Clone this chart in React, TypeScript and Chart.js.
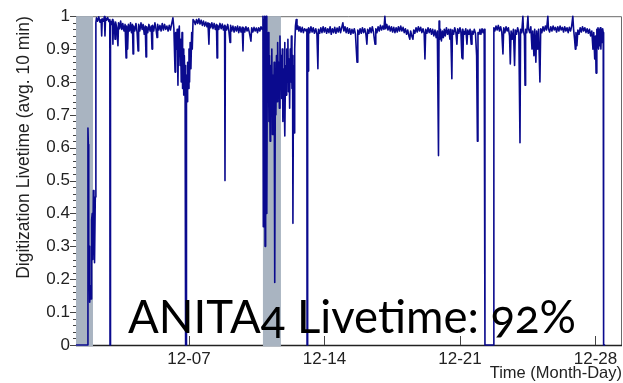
import React, { useEffect, useRef } from 'react';
import { Chart, registerables } from 'chart.js';

Chart.register(...registerables);

// x values are days of December (12-07 == 7.0), y values are livetime fractions
const tickDays = [7, 14, 21, 28];
const tickLabels = ['12-07', '12-14', '12-21', '12-28'];
const grayBands: [number, number][] = [
  [1.163, 2.04],
  [10.82, 11.75],
];
const X_MIN = 1.163;
const X_MAX = 29.37;

const launchPhase: [number, number][] = [
  [1.16, 0], [1.77, 0], [1.78, 0.66], [1.8, 0.61], [1.82, 0.22], [1.84, 0.3], [1.86, 0.21], [1.88, 0.13],
  [1.91, 0.18], [1.94, 0.14], [1.97, 0.38], [2.0, 0.4], [2.03, 0.26], [2.06, 0.47], [2.09, 0.44], [2.12, 0.25],
  [2.16, 0.45], [2.19, 0.98],
];

const firstWeek: [number, number][] = [
  [2.22, 0.995], [2.28, 0.985], [2.34, 0.998], [2.4, 0.982], [2.46, 0.99], [2.49, 0.94], [2.52, 0.992], [2.58, 0.985],
  [2.63, 0.999], [2.66, 0.94], [2.69, 0.995], [2.74, 0.988], [2.8, 0.996], [2.86, 0.984], [2.91, 0.99], [2.92, 0],
  [2.94, 0], [2.95, 0.985], [3.0, 0.975], [3.05, 0.99], [3.07, 0.915], [3.1, 0.985], [3.15, 0.97], [3.18, 0.93],
  [3.21, 0.982], [3.27, 0.965], [3.33, 0.91], [3.36, 0.98], [3.42, 0.962], [3.47, 0.985], [3.53, 0.96], [3.58, 0.978],
  [3.64, 0.955], [3.7, 0.975], [3.75, 0.873], [3.78, 0.97], [3.83, 0.9], [3.87, 0.975], [3.93, 0.955], [3.98, 0.98],
  [4.03, 0.95], [4.08, 0.975], [4.11, 0.885], [4.14, 0.97], [4.2, 0.955], [4.26, 0.978], [4.32, 0.95], [4.37, 0.894],
  [4.4, 0.975], [4.46, 0.955], [4.52, 0.98], [4.58, 0.96], [4.63, 0.975], [4.69, 0.945], [4.74, 0.97], [4.78, 0.876],
  [4.81, 0.968], [4.87, 0.95], [4.93, 0.975], [4.99, 0.955], [5.05, 0.97], [5.09, 0.9], [5.12, 0.972], [5.18, 0.955],
  [5.24, 0.98], [5.3, 0.96], [5.35, 0.935], [5.38, 0.975], [5.44, 0.958], [5.5, 0.972], [5.56, 0.955], [5.62, 0.978],
  [5.68, 0.958], [5.74, 0.975], [5.8, 0.96], [5.86, 0.97], [5.92, 0.955], [5.98, 0.972], [6.04, 0.958], [6.1, 0.975],
  [6.17, 0.995], [6.22, 0.962],
  [6.28, 0.83], [6.31, 0.95], [6.35, 0.9], [6.39, 0.96], [6.43, 0.79], [6.46, 0.94], [6.5, 0.97], [6.54, 0.85],
  [6.57, 0.93], [6.6, 0.8], [6.64, 0.95], [6.67, 0.78], [6.7, 0.9], [6.73, 0.76], [6.76, 0.88], [6.8, 0.75],
  [6.82, 0.85], [6.83, 0], [6.86, 0], [6.87, 0.82], [6.9, 0.74], [6.93, 0.86], [6.97, 0.78], [7.0, 0.9],
  [7.03, 0.8], [7.06, 0.92], [7.1, 0.84], [7.14, 0.95], [7.17, 0.9], [7.21, 0.99],
];

const secondWeek: [number, number][] = [
  [7.27, 0.985], [7.33, 0.975], [7.39, 0.99], [7.45, 0.978], [7.51, 0.992], [7.57, 0.976], [7.63, 0.988], [7.69, 0.972],
  [7.75, 0.985], [7.81, 0.97], [7.87, 0.982], [7.93, 0.968], [7.98, 0.98], [8.03, 0.915], [8.06, 0.978], [8.12, 0.965],
  [8.18, 0.98], [8.24, 0.962], [8.3, 0.978], [8.36, 0.96], [8.42, 0.975], [8.45, 0.873], [8.48, 0.972], [8.54, 0.96],
  [8.6, 0.978], [8.66, 0.962], [8.72, 0.976], [8.78, 0.958], [8.84, 0.972], [8.86, 0.5], [8.88, 0.97], [8.94, 0.958],
  [9.0, 0.975], [9.06, 0.955], [9.12, 0.92], [9.15, 0.972], [9.21, 0.955], [9.27, 0.97], [9.33, 0.952], [9.39, 0.968],
  [9.45, 0.955], [9.51, 0.97], [9.57, 0.95], [9.63, 0.968], [9.69, 0.952], [9.75, 0.966], [9.79, 0.894], [9.82, 0.965],
  [9.88, 0.952], [9.94, 0.968], [10.0, 0.955], [10.06, 0.965], [10.12, 0.95], [10.2, 0.924], [10.24, 0.965], [10.3, 0.952],
  [10.36, 0.966], [10.42, 0.955], [10.48, 0.964], [10.54, 0.95], [10.6, 0.965], [10.66, 0.955], [10.72, 0.968], [10.78, 0.96],
  [10.82, 1.0], [10.84, 0.36], [10.86, 0.99], [10.89, 0.5], [10.91, 1.0], [10.93, 0.3], [10.95, 0.98], [10.97, 0.7],
  [10.99, 1.0], [11.01, 0.6], [11.03, 0.4], [11.05, 0.92], [11.08, 0.75], [11.1, 0.95], [11.13, 0.68], [11.16, 0.88],
  [11.19, 0.62], [11.22, 0.85], [11.25, 0.72], [11.28, 0.9], [11.31, 0.64], [11.34, 0.82], [11.37, 0.7], [11.4, 0.86],
  [11.42, 0.6], [11.44, 0.19], [11.46, 0.8], [11.49, 0.7], [11.52, 0.88], [11.55, 0.74], [11.58, 0.92], [11.61, 0.78],
  [11.64, 0.86], [11.67, 0.72], [11.7, 0.94], [11.73, 0.8], [11.76, 0.88], [11.79, 0.75], [11.82, 0.9], [11.85, 0.68],
  [11.88, 0.84], [11.91, 0.78], [11.94, 0.92], [11.96, 0.636], [11.99, 0.85], [12.02, 0.76], [12.05, 0.9], [12.08, 0.8],
  [12.11, 0.93], [12.14, 0.77], [12.17, 0.87], [12.2, 0.72], [12.23, 0.9], [12.26, 0.8], [12.29, 0.94], [12.32, 0.78],
  [12.35, 0.88], [12.37, 0.37], [12.4, 0.85], [12.43, 0.645], [12.46, 0.9], [12.5, 0.97], [12.54, 0.99], [12.58, 0.96],
  [12.63, 0.97], [12.68, 0.955], [12.73, 0.968], [12.79, 0.952], [12.85, 0.966], [12.91, 0.95], [12.97, 0.962], [13.05, 0.955],
  [13.09, 0.96],
];

const thirdWeek: [number, number][] = [
  [13.1, 0], [13.12, 0], [13.14, 0.96], [13.15, 0.833], [13.18, 0.965], [13.24, 0.95], [13.3, 0.968], [13.36, 0.952],
  [13.42, 0.965], [13.48, 0.948], [13.55, 0.962], [13.61, 0.945], [13.66, 0.84], [13.69, 0.96], [13.75, 0.948], [13.81, 0.965],
  [13.87, 0.95], [13.93, 0.968], [13.99, 0.952], [14.05, 0.965], [14.11, 0.948], [14.17, 0.962], [14.23, 0.95], [14.29, 0.968],
  [14.35, 0.945], [14.41, 0.962], [14.47, 0.95], [14.53, 0.966], [14.59, 0.948], [14.65, 0.964], [14.71, 0.952], [14.77, 0.968],
  [14.83, 0.95], [14.89, 0.965], [14.95, 0.98], [15.0, 0.955], [15.06, 0.968], [15.12, 0.95], [15.18, 0.965], [15.24, 0.948],
  [15.3, 0.962], [15.36, 0.945], [15.42, 0.96], [15.48, 0.948], [15.54, 0.962], [15.6, 0.945], [15.68, 0.86], [15.72, 0.958],
  [15.78, 0.945], [15.84, 0.962], [15.9, 0.948], [15.96, 0.965], [16.02, 0.95], [16.08, 0.962], [16.14, 0.945], [16.19, 0.915],
  [16.23, 0.96], [16.29, 0.948], [16.35, 0.965], [16.41, 0.95], [16.47, 0.968], [16.53, 0.952], [16.61, 0.915], [16.65, 0.962],
  [16.71, 0.95], [16.77, 0.968], [16.83, 0.955], [16.89, 0.972], [16.95, 0.958], [17.01, 0.97], [17.07, 0.96], [17.12, 1.0],
  [17.16, 0.962], [17.22, 0.975], [17.28, 0.958], [17.34, 0.97], [17.4, 0.955], [17.46, 0.968], [17.52, 0.952], [17.58, 0.966],
  [17.64, 0.95], [17.7, 0.965], [17.76, 0.952], [17.82, 0.968], [17.88, 0.955], [17.94, 0.97], [18.0, 0.955], [18.06, 0.966],
  [18.12, 0.95], [18.18, 0.962], [18.24, 0.945], [18.3, 0.958], [18.36, 0.94], [18.41, 0.93], [18.45, 0.955], [18.51, 0.94],
  [18.57, 0.93], [18.61, 0.958], [18.67, 0.948], [18.73, 0.965], [18.79, 0.952], [18.85, 0.968], [18.91, 0.955], [18.97, 0.966],
  [19.03, 0.95], [19.09, 0.962], [19.15, 0.948], [19.19, 0.87], [19.23, 0.96], [19.29, 0.948], [19.35, 0.965], [19.41, 0.95],
  [19.47, 0.962], [19.53, 0.945], [19.59, 0.96], [19.65, 0.94], [19.71, 0.958], [19.77, 0.935], [19.83, 0.955], [19.89, 0.576],
  [19.92, 0.985], [19.95, 0.93], [19.99, 0.96], [20.04, 0.925], [20.09, 0.955], [20.14, 0.935], [20.19, 0.96], [20.24, 0.94],
  [20.3, 0.965], [20.36, 0.945], [20.42, 0.96], [20.48, 0.93], [20.52, 0.96], [20.58, 0.81], [20.61, 0.958], [20.67, 0.945],
  [20.73, 0.965], [20.79, 0.95], [20.84, 0.915], [20.88, 0.962], [20.94, 0.948], [21.0, 0.965], [21.05, 0.95], [21.1, 0.873],
  [21.13, 0.96], [21.15, 0.87], [21.18, 0.955], [21.24, 0.945], [21.3, 0.962], [21.36, 0.915], [21.4, 0.958], [21.46, 0.945],
  [21.52, 0.96], [21.58, 0.915], [21.62, 0.955], [21.68, 0.945], [21.74, 0.96], [21.8, 0.948], [21.86, 0.88], [21.9, 0.62],
  [21.93, 0.95], [21.98, 0.945], [22.03, 0.96], [22.08, 0.945], [22.14, 0.962], [22.19, 0.95], [22.25, 0.96], [22.29, 0],
  [22.74, 0],
];

const fourthWeek: [number, number][] = [
  [22.75, 0.965], [22.8, 0.955], [22.86, 0.97], [22.92, 0.958], [22.98, 0.972], [23.04, 0.955], [23.1, 0.968], [23.16, 0.952],
  [23.22, 0.885], [23.26, 0.965], [23.32, 0.95], [23.38, 0.968], [23.44, 0.955], [23.5, 0.965], [23.56, 0.94], [23.6, 0.855],
  [23.64, 0.955], [23.7, 0.93], [23.76, 0.96], [23.82, 0.85], [23.86, 0.958], [23.92, 0.945], [23.98, 0.965], [24.04, 0.95],
  [24.1, 0.615], [24.13, 0.96], [24.19, 0.95], [24.25, 1.0], [24.28, 0.955], [24.33, 0.94], [24.36, 0.79], [24.39, 0.96],
  [24.45, 0.95], [24.51, 1.0], [24.54, 0.962], [24.6, 0.95], [24.66, 0.968], [24.72, 0.9], [24.76, 0.955], [24.82, 0.88],
  [24.86, 0.96], [24.92, 0.86], [24.96, 0.955], [25.02, 0.9], [25.06, 0.96], [25.13, 0.8], [25.17, 0.962], [25.23, 0.95],
  [25.29, 0.968], [25.35, 0.955], [25.41, 0.97], [25.47, 0.958], [25.54, 1.0], [25.57, 0.962], [25.63, 0.952], [25.69, 0.968],
  [25.75, 0.955], [25.81, 0.97], [25.87, 0.958], [25.93, 0.966], [25.99, 0.952], [26.05, 0.968], [26.11, 0.955], [26.17, 0.97],
  [26.23, 0.958], [26.29, 0.966], [26.35, 0.952], [26.41, 0.968], [26.47, 0.955], [26.53, 0.965], [26.59, 0.95], [26.65, 0.966],
  [26.71, 0.955], [26.77, 0.97], [26.83, 1.0], [26.87, 0.96], [26.92, 0.93], [26.96, 0.9], [26.99, 0.95], [27.04, 0.91],
  [27.09, 0.958], [27.15, 0.945], [27.21, 0.965], [27.27, 0.952], [27.33, 0.968], [27.39, 0.955], [27.45, 0.965], [27.51, 0.95],
  [27.57, 0.962], [27.63, 0.948], [27.69, 0.96], [27.75, 0.94], [27.81, 0.955], [27.87, 0.9], [27.91, 0.95], [27.96, 0.87],
  [28.0, 0.94], [28.03, 0.827], [28.07, 0.96], [28.1, 0.905], [28.13, 0.965], [28.16, 0.9], [28.19, 0.96], [28.22, 0.91],
  [28.25, 0.965], [28.28, 0.9], [28.31, 0.96], [28.34, 0.92], [28.37, 0.962], [28.4, 0.95], [28.42, 0], [28.5, 0],
];

const livetimeSeries = [...launchPhase, ...firstWeek, ...secondWeek, ...thirdWeek, ...fourthWeek];

const FONT = '"Liberation Sans", Arial, Helvetica, sans-serif';

const framePlugin = {
  id: 'rootFrame',
  beforeDatasetsDraw(chart: any) {
    const { ctx, chartArea, scales } = chart;
    const { left, right, top, bottom } = chartArea;
    const x = scales.x;
    const y = scales.y;
    ctx.save();
    // frame
    ctx.strokeStyle = '#6a6a6a';
    ctx.lineWidth = 1;
    ctx.beginPath();
    ctx.moveTo(left, top + 0.5);
    ctx.lineTo(right - 0.5, top + 0.5);
    ctx.lineTo(right - 0.5, bottom);
    ctx.stroke();
    // y axis
    ctx.strokeStyle = '#333';
    ctx.beginPath();
    ctx.moveTo(left + 0.5, top);
    ctx.lineTo(left + 0.5, bottom);
    ctx.stroke();
    // y ticks (major + minor)
    ctx.strokeStyle = '#444';
    for (let i = 0; i <= 50; i++) {
      const v = i / 50;
      const py = Math.round(y.getPixelForValue(v)) + 0.5;
      const len = i % 5 === 0 ? 6 : 3;
      ctx.beginPath();
      ctx.moveTo(left - len, py);
      ctx.lineTo(left, py);
      ctx.stroke();
    }
    // x axis
    ctx.strokeStyle = '#222';
    ctx.lineWidth = 1.5;
    ctx.beginPath();
    ctx.moveTo(left, bottom + 0.5);
    ctx.lineTo(right, bottom + 0.5);
    ctx.stroke();
    ctx.lineWidth = 1;
    ctx.strokeStyle = '#444';
    x.ticks.forEach((t: any) => {
      const px = Math.round(x.getPixelForValue(t.value)) + 0.5;
      ctx.beginPath();
      ctx.moveTo(px, bottom);
      ctx.lineTo(px, bottom - 9);
      ctx.stroke();
    });
    // shaded periods
    ctx.fillStyle = '#a9b4c1';
    grayBands.forEach(([a, b]) => {
      const x0 = x.getPixelForValue(a);
      const x1 = x.getPixelForValue(b);
      ctx.fillRect(x0, top, x1 - x0, bottom - top + 1.5);
    });
    ctx.restore();
  },
};

export default function App() {
  const canvasRef = useRef<HTMLCanvasElement | null>(null);

  useEffect(() => {
    const canvas = canvasRef.current;
    if (!canvas) return;
    const chart = new Chart(canvas, {
      type: 'line',
      data: {
        datasets: [
          {
            label: 'Digitization livetime',
            data: livetimeSeries.map(([d, v]) => ({ x: d, y: v })),
            borderColor: '#0a0a8e',
            borderWidth: 1.6,
            borderJoinStyle: 'round',
            pointRadius: 0,
            tension: 0,
            fill: false,
            clip: 3,
          } as any,
        ],
      },
      options: {
        responsive: false,
        devicePixelRatio: 1,
        animation: false,
        layout: { padding: { top: 15, right: 1, left: 0, bottom: 0 } },
        plugins: { legend: { display: false }, tooltip: { enabled: false } },
        scales: {
          x: {
            type: 'linear',
            min: X_MIN,
            max: X_MAX,
            grid: { display: false, drawTicks: false },
            border: { display: false },
            afterBuildTicks: (scale: any) => {
              scale.ticks = tickDays.map((v) => ({ value: v }));
            },
            afterFit: (scale: any) => {
              scale.height = 38;
            },
            ticks: {
              autoSkip: false,
              maxRotation: 0,
              padding: 4,
              color: '#222',
              font: { family: FONT, size: 17 },
              callback: (v: any) => tickLabels[tickDays.indexOf(Number(v))] ?? '',
            },
            title: {
              display: true,
              text: 'Time (Month-Day)',
              align: 'end',
              color: '#222',
              font: { family: FONT, size: 16.5 },
              padding: { top: 0, bottom: 0 },
            },
          },
          y: {
            type: 'linear',
            min: 0,
            max: 1,
            grid: { display: false, drawTicks: false },
            border: { display: false },
            afterFit: (scale: any) => {
              scale.width = 76;
            },
            ticks: {
              stepSize: 0.1,
              padding: 6,
              color: '#222',
              font: { family: FONT, size: 17 },
              callback: (v: any) => {
                const n = Number(v);
                if (Math.abs(n) < 1e-9) return '0';
                if (Math.abs(n - 1) < 1e-9) return '1';
                return n.toFixed(1);
              },
            },
            title: {
              display: true,
              text: 'Digitization Livetime (avg. 10 min)',
              align: 'end',
              color: '#222',
              font: { family: FONT, size: 17.5 },
              padding: { top: 14, bottom: 0 },
            },
          },
        },
      } as any,
      plugins: [framePlugin],
    });
    return () => chart.destroy();
  }, []);

  return (
    <div style={{ position: 'fixed', left: 0, top: 0, width: 623, height: 383, background: '#fff' }}>
      <canvas ref={canvasRef} width={623} height={383} style={{ display: 'block' }} />
      <div
        style={{
          position: 'absolute',
          left: 128,
          top: 293,
          fontFamily: 'Lato, "Open Sans", sans-serif',
          fontWeight: 400,
          fontSize: 45.5,
          lineHeight: '45.5px',
          color: '#000',
          whiteSpace: 'nowrap',
          fontVariantNumeric: 'oldstyle-nums',
          fontFeatureSettings: '"onum" 1',
        }}
      >
        ANITA4 Livetime: 92%
      </div>
    </div>
  );
}
